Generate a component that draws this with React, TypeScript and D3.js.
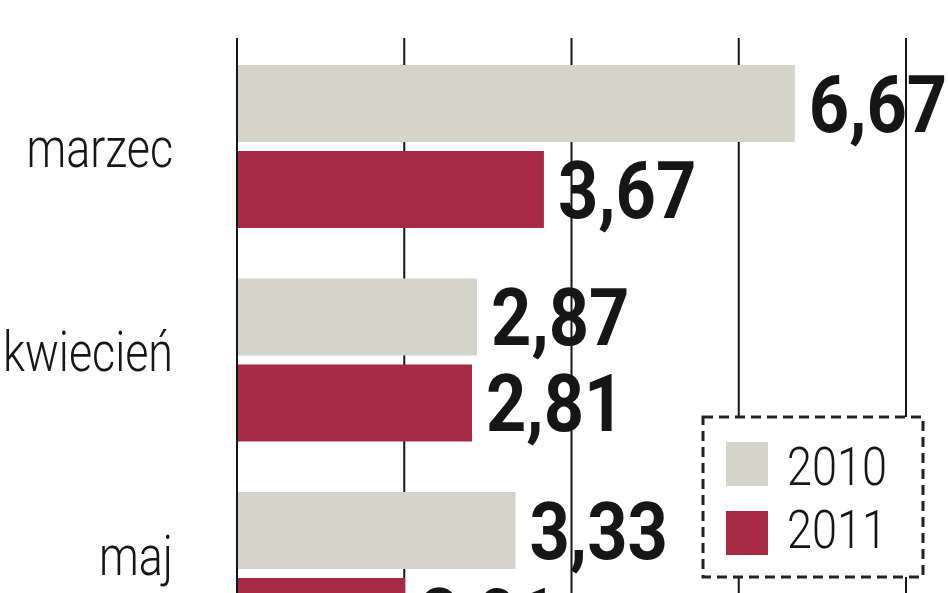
import { useMemo } from 'react';
import * as d3 from 'd3';

const categories = ['marzec', 'kwiecień', 'maj'];
const series = ['2010', '2011'];
const values2010 = [6.67, 2.87, 3.33];
const values2011 = [3.67, 2.81, 2.01];
const gridTicks = [0, 2, 4, 6, 8];

const W = 948;
const H = 593;
const GREY = '#d5d4ca';
const RED = '#a52a46';
const INK = '#161616';

const fmt = (v: number) => v.toFixed(2).replace('.', ',');

export default function App() {
  const x = useMemo(() => d3.scaleLinear().domain([0, 8]).range([237, 906]), []);
  const y = useMemo(
    () => d3.scaleBand<string>().domain(categories).range([65, 65 + 3 * 213.5]).padding(0),
    []
  );
  const ySub = useMemo(
    () => d3.scaleBand<string>().domain(series).range([0, 163]).paddingInner(9 / 86),
    []
  );
  const yLabel = useMemo(() => d3.scalePoint<string>().domain(categories).range([152, 560]), []);
  const color = d3.scaleOrdinal<string, string>().domain(series).range([GREY, RED]);

  const rows = categories.flatMap((c, i) => [
    { cat: c, s: '2010', v: values2010[i] },
    { cat: c, s: '2011', v: values2011[i] },
  ]);

  const legend = { x: 703, y: 417, w: 220, h: 160 };

  return (
    <svg
      width={W}
      height={H}
      viewBox={`0 0 ${W} ${H}`}
      style={{ position: 'fixed', left: 0, top: 0, background: '#fff' }}
    >
      <rect width={W} height={H} fill="#fff" />

      {/* category labels */}
      {categories.map((c) => (
        <text
          key={c}
          transform={`translate(173,${(yLabel(c) ?? 0) + 15}) scale(0.8,1)`}
          textAnchor="end"
          fontFamily="Roboto, sans-serif"
          fontWeight={300}
          fontSize={56}
          fill={INK}
        >
          {c}
        </text>
      ))}

      {/* value labels */}
      {rows.map((r) => {
        const top = (y(r.cat) ?? 0) + (ySub(r.s) ?? 0);
        const cy = top + ySub.bandwidth() / 2;
        return (
          <text
            key={r.cat + r.s + 'l'}
            transform={`translate(${x(r.v) + 14},${cy + 28}) scale(0.88,1)`}
            fontFamily="Roboto, sans-serif"
            fontWeight={700}
            fontSize={80}
            fill={INK}
          >
            {fmt(r.v)}
          </text>
        );
      })}

      {/* grid */}
      {gridTicks.map((t) => (
        <line key={t} x1={x(t)} x2={x(t)} y1={38} y2={H} stroke={INK} strokeWidth={2} />
      ))}

      {/* bars */}
      {rows.map((r) => (
        <rect
          key={r.cat + r.s}
          x={x(0) + 1}
          y={(y(r.cat) ?? 0) + (ySub(r.s) ?? 0)}
          width={x(r.v) - x(0) - 1}
          height={ySub.bandwidth()}
          fill={color(r.s)}
        />
      ))}

      {/* legend */}
      <g>
        <rect
          x={legend.x}
          y={legend.y}
          width={legend.w}
          height={legend.h}
          fill="#fff"
          stroke="#222"
          strokeWidth={3}
          strokeDasharray="10 6"
        />
        {series.map((s, i) => (
          <g key={s}>
            <rect x={726} y={442 + i * 69} width={42} height={44} fill={color(s)} />
            <text
              transform={`translate(787,${485 + i * 63}) scale(0.85,1)`}
              fontFamily="Roboto, sans-serif"
              fontWeight={300}
              fontSize={53}
              fill={INK}
            >
              {s}
            </text>
          </g>
        ))}
      </g>
    </svg>
  );
}
